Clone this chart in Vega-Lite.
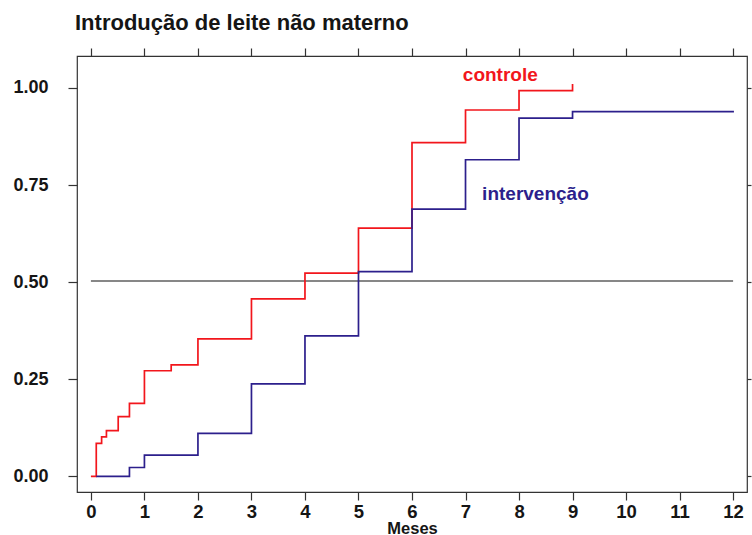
{
  "$schema": "https://vega.github.io/schema/vega-lite/v6.json",
  "width": 670,
  "height": 436,
  "autosize": {"type": "none"},
  "padding": {"left": 77, "top": 56, "right": 5, "bottom": 43},
  "background": "white",
  "title": {
    "text": "Introdução de leite não materno",
    "anchor": "start",
    "frame": "group",
    "font": "Liberation Sans",
    "fontSize": 22,
    "fontWeight": "bold",
    "color": "#151515",
    "baseline": "alphabetic",
    "offset": -5,
    "dx": -2
  },
  "config": {
    "view": {"stroke": "#333333", "strokeWidth": 1.2},
    "axis": {"grid": false, "domain": false, "tickColor": "#333333", "tickWidth": 1.2, "labelFont": "Liberation Sans", "labelFontWeight": "bold", "labelColor": "#151515", "titleFont": "Liberation Sans", "titleFontWeight": "bold", "titleColor": "#151515"}
  },
  "datasets": {
    "curves": [
      {"grupo": "controle", "mes": 0, "p": 0},
      {"grupo": "controle", "mes": 0.1, "p": 0.085},
      {"grupo": "controle", "mes": 0.2, "p": 0.102},
      {"grupo": "controle", "mes": 0.29, "p": 0.118},
      {"grupo": "controle", "mes": 0.51, "p": 0.154},
      {"grupo": "controle", "mes": 0.72, "p": 0.188},
      {"grupo": "controle", "mes": 1, "p": 0.272},
      {"grupo": "controle", "mes": 1.5, "p": 0.287},
      {"grupo": "controle", "mes": 2, "p": 0.354},
      {"grupo": "controle", "mes": 3, "p": 0.457},
      {"grupo": "controle", "mes": 4, "p": 0.523},
      {"grupo": "controle", "mes": 5, "p": 0.639},
      {"grupo": "controle", "mes": 6, "p": 0.859},
      {"grupo": "controle", "mes": 7, "p": 0.943},
      {"grupo": "controle", "mes": 8, "p": 0.993},
      {"grupo": "controle", "mes": 9, "p": 1.01},
      {"grupo": "intervenção", "mes": 0.1, "p": 0},
      {"grupo": "intervenção", "mes": 0.72, "p": 0.023},
      {"grupo": "intervenção", "mes": 1, "p": 0.055},
      {"grupo": "intervenção", "mes": 2, "p": 0.111},
      {"grupo": "intervenção", "mes": 3, "p": 0.238},
      {"grupo": "intervenção", "mes": 4, "p": 0.362},
      {"grupo": "intervenção", "mes": 5, "p": 0.527},
      {"grupo": "intervenção", "mes": 6, "p": 0.688},
      {"grupo": "intervenção", "mes": 7, "p": 0.815},
      {"grupo": "intervenção", "mes": 8, "p": 0.922},
      {"grupo": "intervenção", "mes": 9, "p": 0.939},
      {"grupo": "intervenção", "mes": 12, "p": 0.941}
    ],
    "ref": [
      {"mes": 0, "p": 0.503},
      {"mes": 12, "p": 0.503}
    ],
    "labels": [
      {"grupo": "controle", "mes": 6.95, "p": 1.018, "texto": "controle"},
      {"grupo": "intervenção", "mes": 7.31, "p": 0.712, "texto": "intervenção"}
    ]
  },
  "layer": [
    {
      "data": {"name": "ref"},
      "mark": {"type": "line", "color": "#111111", "strokeWidth": 1.2},
      "encoding": {
        "x": {"field": "mes", "type": "quantitative", "scale": {"domain": [-0.26, 12.26], "nice": false, "zero": false},
          "axis": {"orient": "bottom", "values": [0,1,2,3,4,5,6,7,8,9,10,11,12], "tickSize": 8, "labelFontSize": 18.5, "labelPadding": 2, "title": "Meses", "titleFontSize": 16.5, "titlePadding": 0}},
        "y": {"field": "p", "type": "quantitative", "scale": {"domain": [-0.04, 1.082], "nice": false, "zero": false},
          "axis": {"orient": "left", "values": [0, 0.25, 0.5, 0.75, 1], "format": ".2f", "tickSize": 9, "labelFontSize": 18, "labelPadding": 20, "title": null}}
      }
    },
    {
      "data": {"name": "curves"},
      "mark": {"type": "line", "interpolate": "step-after", "strokeWidth": 1.7},
      "encoding": {
        "x": {"field": "mes", "type": "quantitative", "axis": null},
        "y": {"field": "p", "type": "quantitative", "axis": null},
        "color": {"field": "grupo", "type": "nominal", "scale": {"domain": ["controle", "intervenção"], "range": ["#f2161c", "#2c1f8c"]}, "legend": null},
        "order": {"field": "mes", "type": "quantitative"}
      }
    },
    {
      "data": {"name": "labels"},
      "mark": {"type": "text", "align": "left", "baseline": "alphabetic", "font": "Liberation Sans", "fontWeight": "bold", "fontSize": 19},
      "encoding": {
        "x": {"field": "mes", "type": "quantitative", "axis": null},
        "y": {"field": "p", "type": "quantitative", "axis": null},
        "text": {"field": "texto"},
        "color": {"field": "grupo", "type": "nominal", "legend": null}
      }
    },
    {
      "data": {"name": "ref"},
      "mark": {"type": "point", "opacity": 0},
      "encoding": {
        "x": {"field": "mes", "type": "quantitative", "axis": {"orient": "top", "values": [0,1,2,3,4,5,6,7,8,9,10,11,12], "tickSize": 8, "labels": false, "title": null}},
        "y": {"field": "p", "type": "quantitative", "axis": {"orient": "right", "values": [0, 0.25, 0.5, 0.75, 1], "tickSize": 4, "labels": false, "title": null}}
      }
    }
  ],
  "resolve": {"axis": {"x": "independent", "y": "independent"}}
}
